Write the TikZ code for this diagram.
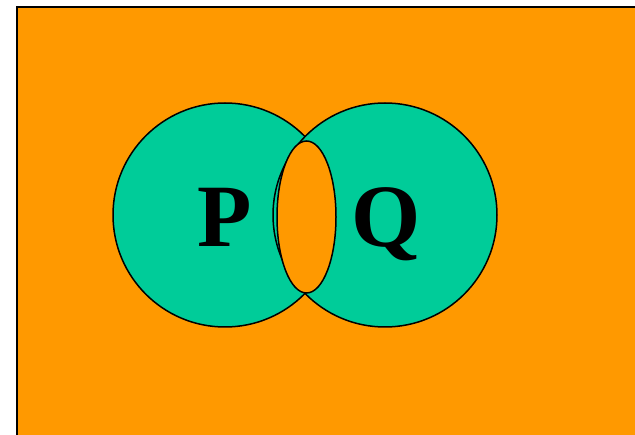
\documentclass[tikz,border=0pt]{standalone}
\usepackage{fontspec}
\setmainfont{Liberation Serif}
\usetikzlibrary{shapes.geometric}
\definecolor{bgorange}{RGB}{255,153,0}
\definecolor{setteal}{RGB}{0,204,153}
\begin{document}
\begin{tikzpicture}[x=1pt,y=-1pt,
  setcircle/.style={fill=setteal,draw=black,line width=1.5pt},
  lens/.style={fill=bgorange,draw=black,line width=1.5pt},
  setlabel/.style={font=\bfseries\fontsize{89}{89}\selectfont,anchor=base,inner sep=0pt}]
\useasboundingbox (0,0) rectangle (635,435);
\fill[white] (0,0) rectangle (635,435);
\draw[fill=bgorange,line width=2pt] (17,7) rectangle (650,450);
\node[setcircle,circle,minimum size=224pt,inner sep=0pt] (P) at (225,215) {};
\node[setcircle,circle,minimum size=224pt,inner sep=0pt] (Q) at (385,215) {};
\node[lens,ellipse,minimum width=59pt,minimum height=152pt,inner sep=0pt] (PQ) at (306.5,217) {};
\node[setlabel] (pl) at (225,247) {P};
\node[setlabel] (ql) at (386,247) {Q};
\end{tikzpicture}
\end{document}
